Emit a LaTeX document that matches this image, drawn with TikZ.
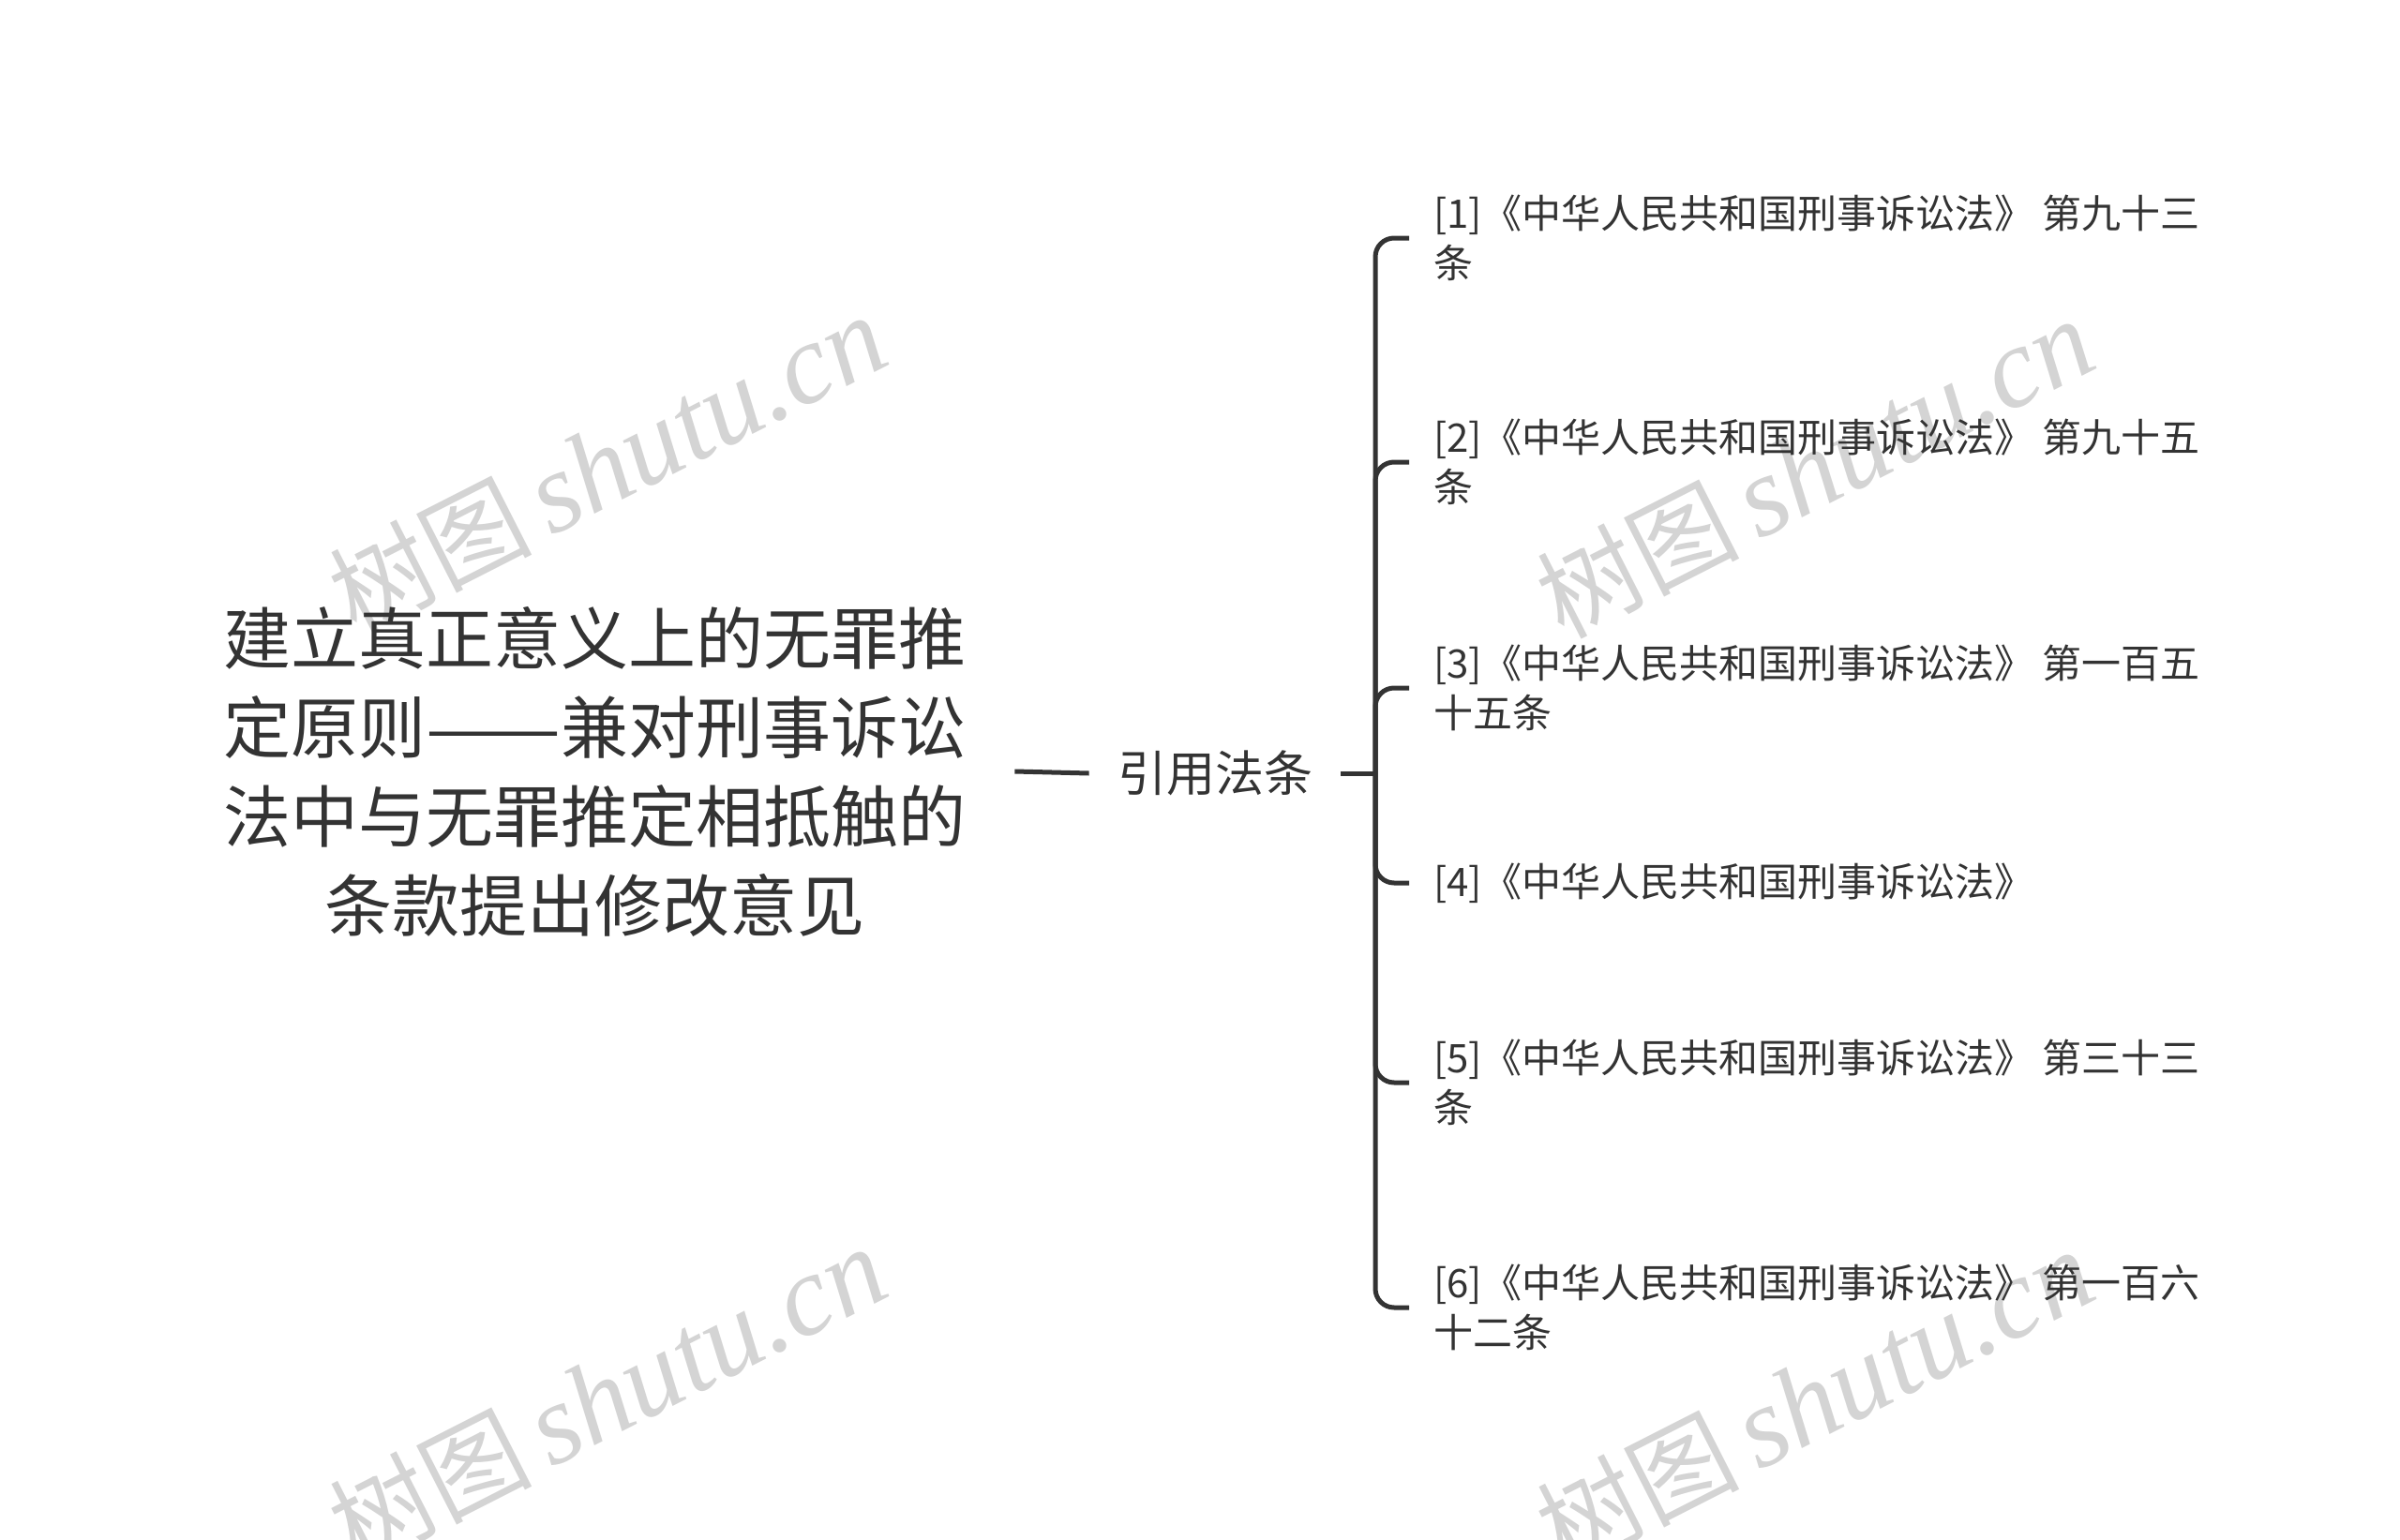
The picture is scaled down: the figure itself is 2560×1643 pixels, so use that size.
\documentclass[tikz,border=0pt]{standalone}
\usepackage{fontspec}
\usepackage{graphicx}
\newfontfamily\cjk{Noto Sans CJK SC}
\newfontfamily\wmserif{Liberation Serif}
\definecolor{ink}{HTML}{333333}
\definecolor{wmgray}{HTML}{D4D4D4}
\newcommand{\widedash}{\resizebox{2em}{\height}{——}}
\begin{document}
\begin{tikzpicture}[x=0.5pt,y=-0.5pt,
  conn/.style={draw=ink,line width=2.5pt},
  titlebox/.style={font=\cjk\fontsize{36pt}{47.5pt}\selectfont,text=ink,align=center,inner xsep=26pt,inner ysep=0pt},
  rootbox/.style={font=\cjk\fontsize{26pt}{32pt}\selectfont,text=ink,inner xsep=15pt,inner ysep=0pt},
  itembox/.style={font=\cjk\fontsize{21pt}{26.5pt}\selectfont,text=ink,align=left,anchor=west,inner xsep=13pt,inner ysep=0pt},
  wm/.style={text=wmgray,rotate=27,inner sep=0pt}]
\useasboundingbox (0,0) rectangle (2560,1643);
\fill[white] (0,0) rectangle (2560,1643);
% watermarks
\foreach \wx/\wy [count=\k] in {648/496,1936/500,648/1490,1936/1493}{
  \node[wm] (wm\k) at (\wx,\wy) {{\cjk\fontsize{54pt}{54pt}\selectfont 树图}\hspace{9pt}{\wmserif\itshape\fontsize{61pt}{61pt}\selectfont shutu.cn}};
}
% nodes
\node[titlebox] (title) at (634,823) {建立真正意义上的无罪推\\定原则\widedash 兼对刑事诉讼\\法中与无罪推定相抵触的\\条款提出修改意见};
\node[rootbox] (root) at (1296,825) {引用法条};
\coordinate (hub) at (1467,825);
\node[itembox] (i1) at (1503,254) {[1]《中华人民共和国刑事诉讼法》 第九十三\\条};
\node[itembox] (i2) at (1503,493) {[2]《中华人民共和国刑事诉讼法》 第九十五\\条};
\node[itembox] (i3) at (1503,734) {[3]《中华人民共和国刑事诉讼法》 第一百五\\十五条};
\node[itembox] (i4) at (1503,942) {[4]《中华人民共和国刑事诉讼法》};
\node[itembox] (i5) at (1503,1155) {[5]《中华人民共和国刑事诉讼法》 第三十三\\条};
\node[itembox] (i6) at (1503,1395) {[6]《中华人民共和国刑事诉讼法》 第一百六\\十二条};
% connectors
\draw[conn] (title.east) -- (root.west);
\draw[conn] (root.east) -- (hub);
\foreach \n in {i1,i2,i3,i4,i5,i6}{
  \draw[conn,rounded corners=10pt] (hub) |- (\n.west);
}
\end{tikzpicture}
\end{document}
